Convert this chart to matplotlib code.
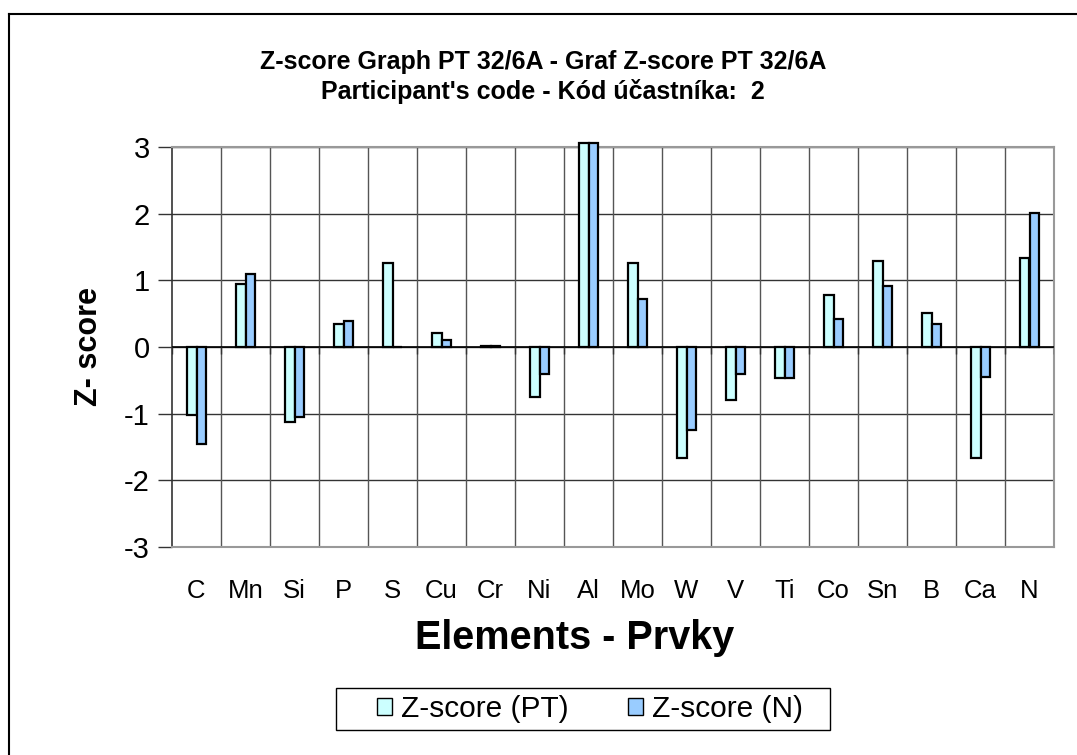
import matplotlib.pyplot as plt
import numpy as np
from matplotlib.lines import Line2D
from matplotlib.patches import Patch, Rectangle

plt.rcParams['font.family'] = ['Liberation Sans', 'DejaVu Sans']

elements = ['C', 'Mn', 'Si', 'P', 'S', 'Cu', 'Cr', 'Ni', 'Al', 'Mo',
            'W', 'V', 'Ti', 'Co', 'Sn', 'B', 'Ca', 'N']
z_pt = [-1.02, 0.95, -1.13, 0.35, 1.26, 0.21, 0.01, -0.75, 3.06, 1.26,
        -1.66, -0.80, -0.47, 0.78, 1.29, 0.51, -1.66, 1.34]
z_n = [-1.46, 1.10, -1.05, 0.39, 0.0, 0.10, 0.01, -0.40, 3.06, 0.72,
       -1.25, -0.40, -0.47, 0.42, 0.91, 0.34, -0.45, 2.01]
yticks = [-3, -2, -1, 0, 1, 2, 3]

c_pt = '#ccffff'
c_n = '#99ccff'

fig = plt.figure(figsize=(10.77, 7.55), dpi=100)
ax = fig.add_axes([172/1077, 208/755, 882/1077, 400/755])

x = np.arange(len(elements))
w = 0.2
ax.bar(x - w/2, z_pt, w, color=c_pt, edgecolor='black', lw=1.6, zorder=3, clip_on=False)
ax.bar(x + w/2, z_n, w, color=c_n, edgecolor='black', lw=1.6, zorder=3, clip_on=False)

ax.set_xlim(-0.5, len(elements) - 0.5)
ax.set_ylim(-3, 3)

# grid: horizontal at ticks, vertical at category boundaries
for y in yticks:
    ax.axhline(y, color='#333333', lw=1, zorder=1)
bounds = np.arange(len(elements) + 1) - 0.5
ax.vlines(bounds[1:-1], -3, 3, color='#555555', lw=1, zorder=1)
ax.axhline(0, color='black', lw=1.2, zorder=4)
ax.vlines(bounds, -0.11, 0, color='#333333', lw=1, zorder=4)

ax.set_yticks(yticks)
ax.set_yticklabels([str(v) for v in yticks], fontsize=21)
ax.tick_params(axis='y', length=10, width=1, color='#333333', pad=6)
ax.set_xticks(x)
ax.set_xticklabels(elements, fontsize=18.5)
ax.tick_params(axis='x', length=0, pad=23)

for s in ['top', 'right', 'bottom']:
    ax.spines[s].set_color('#999999')
    ax.spines[s].set_linewidth(1.5)
ax.spines['left'].set_color('#333333')
ax.spines['left'].set_linewidth(1.2)

ax.set_ylabel('Z- score', fontsize=22, fontweight='bold', labelpad=14)
fig.text(575/1077, 1 - 638/755, 'Elements - Prvky', ha='center', va='center',
         fontsize=28.5, fontweight='bold')

fig.text(543/1077, 1 - 62/755, 'Z-score Graph PT 32/6A - Graf Z-score PT 32/6A',
         ha='center', va='center', fontsize=18, fontweight='bold')
fig.text(543/1077, 1 - 92/755, "Participant's code - Kód účastníka:  2",
         ha='center', va='center', fontsize=18, fontweight='bold')

# legend box drawn separately
fig.add_artist(Rectangle((336/1077, 1 - 730/755), 494/1077, 42/755,
                         transform=fig.transFigure, facecolor='white',
                         edgecolor='black', lw=1))
handles = [Patch(facecolor=c_pt, edgecolor='black', lw=1),
           Patch(facecolor=c_n, edgecolor='black', lw=1)]
leg = fig.legend(handles, ['Z-score (PT)', 'Z-score (N)'], loc='center',
                 bbox_to_anchor=(590/1077, 1 - 709/755), ncol=2, fontsize=21.5,
                 frameon=False, handlelength=0.5, handleheight=0.5,
                 handletextpad=0.3, columnspacing=2.0, borderpad=0.1)

# outer chart border (top and left visible)
fig.add_artist(Line2D([9/1077, 9/1077], [0, 1 - 14/755], color='black', lw=1.5))
fig.add_artist(Line2D([9/1077, 1], [1 - 14/755, 1 - 14/755], color='black', lw=1.5))

fig.savefig('out.png', dpi=100)
